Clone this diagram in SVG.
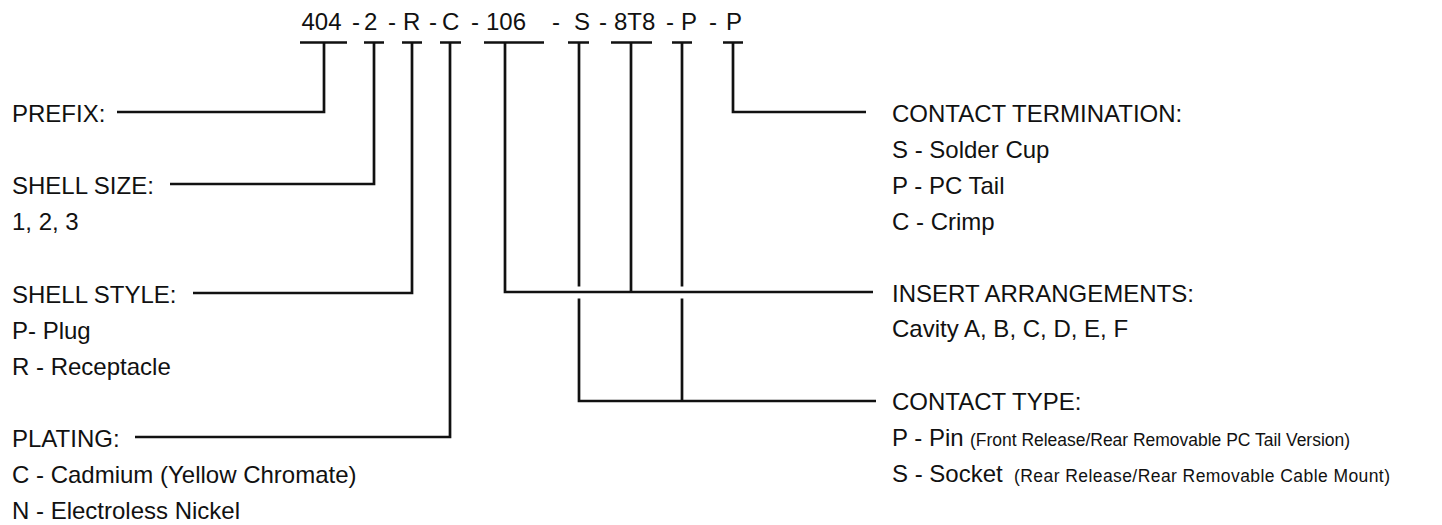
<svg xmlns="http://www.w3.org/2000/svg" width="1442" height="525" viewBox="0 0 1442 525">
<style>
text{font-family:"Liberation Sans",Arial,Helvetica,sans-serif;font-size:24px;fill:#111}
.s{font-size:17.5px}
.ln{fill:none;stroke:#111;stroke-width:2.7;stroke-linejoin:miter;stroke-linecap:butt}
</style>
<rect width="1442" height="525" fill="#fff"/>
<g id="code">
<text y="30"><tspan x="301.5">404</tspan><tspan x="352">-</tspan><tspan x="364">2</tspan><tspan x="388">-</tspan><tspan x="403">R</tspan><tspan x="429">-</tspan><tspan x="442">C</tspan><tspan x="471">-</tspan><tspan x="486">106</tspan><tspan x="552">-</tspan><tspan x="574">S</tspan><tspan x="599">-</tspan><tspan x="614">8T8</tspan><tspan x="666">-</tspan><tspan x="681">P</tspan><tspan x="709">-</tspan><tspan x="726">P</tspan></text>
</g>
<g id="connectors">
<path class="ln" d="M300 42.5H347M364 42.5H384M402 42.5H422M440 42.5H461M484 42.5H544M568 42.5H589M611 42.5H652M672 42.5H692M723 42.5H743"/>
<polyline class="ln" points="324,42.5 324,112 117,112"/>
<polyline class="ln" points="374,42.5 374,184 170,184"/>
<polyline class="ln" points="412,42.5 412,293 193,293"/>
<polyline class="ln" points="450,42.5 450,437 135,437"/>
<polyline class="ln" points="505,42.5 505,292 873,292"/>
<line class="ln" x1="631" y1="42.5" x2="631" y2="292"/>
<line class="ln" x1="579" y1="42.5" x2="579" y2="286.5"/>
<line class="ln" x1="682" y1="42.5" x2="682" y2="286.5"/>
<polyline class="ln" points="579,298.5 579,401 876,401"/>
<line class="ln" x1="682" y1="298.5" x2="682" y2="401"/>
<polyline class="ln" points="733,42.5 733,112 866,112"/>
</g>
<g id="prefix"><text x="12" y="122">PREFIX:</text></g>
<g id="shell-size"><text x="12" y="194">SHELL SIZE:</text><text x="12" y="230">1, 2, 3</text></g>
<g id="shell-style"><text x="12" y="303">SHELL STYLE:</text><text x="12" y="339">P- Plug</text><text x="12" y="375">R - Receptacle</text></g>
<g id="plating"><text x="12" y="447">PLATING:</text><text x="12" y="483">C - Cadmium (Yellow Chromate)</text><text x="12" y="519">N - Electroless Nickel</text></g>
<g id="contact-termination"><text x="892" y="122">CONTACT TERMINATION:</text><text x="892" y="158">S - Solder Cup</text><text x="892" y="194">P - PC Tail</text><text x="892" y="230">C - Crimp</text></g>
<g id="insert-arrangements"><text x="892" y="302">INSERT ARRANGEMENTS:</text><text x="892" y="337">Cavity A, B, C, D, E, F</text></g>
<g id="contact-type"><text x="892" y="410">CONTACT TYPE:</text><text x="892" y="446">P - Pin<tspan class="s" x="970" textLength="380" lengthAdjust="spacing">(Front Release/Rear Removable PC Tail Version)</tspan></text><text x="892" y="482">S - Socket<tspan class="s" x="1014" textLength="376" lengthAdjust="spacing">(Rear Release/Rear Removable Cable Mount)</tspan></text></g>
</svg>
